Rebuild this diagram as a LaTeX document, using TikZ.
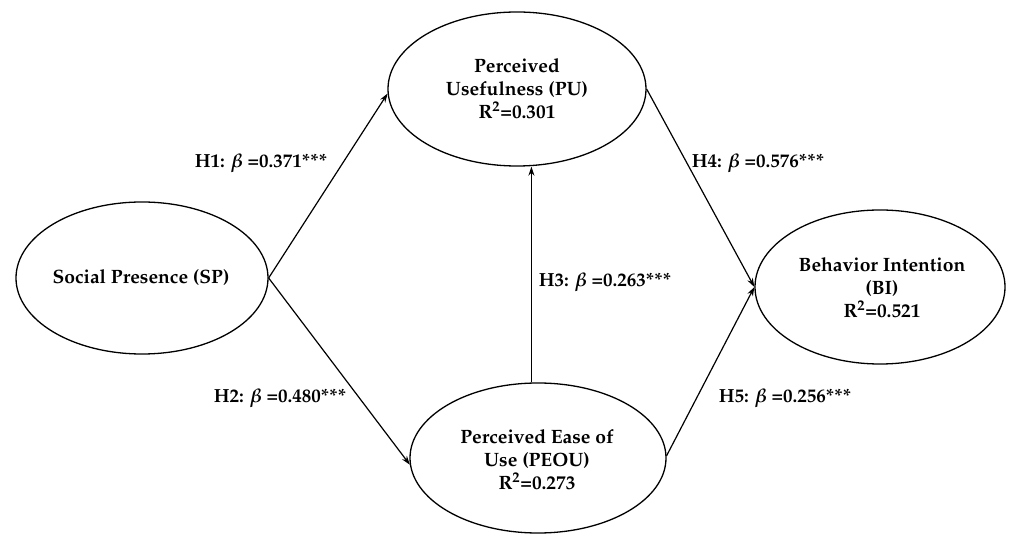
\documentclass[tikz,border=0pt]{standalone}
\usepackage[T1]{fontenc}
\usepackage{mathpazo}
\usetikzlibrary{shapes.geometric,arrows.meta}
\begin{document}
\begin{tikzpicture}[x=1pt,y=-1pt,
  ell/.style={draw, ellipse, inner sep=0pt, line width=1.3pt},
  txt/.style={font=\fontsize{19.3}{23}\selectfont\bfseries, align=center, inner sep=0pt},
  arr/.style={line width=1.2pt, -{Stealth[length=9pt,width=6pt]}},
  lab/.style={font=\fontsize{19}{23}\selectfont\bfseries, inner sep=0pt}]
\useasboundingbox (0,0) rectangle (1010,534);
% ellipses
\node[ell, minimum width=252pt, minimum height=152pt] (SP) at (142,278) {};
\node[ell, minimum width=258pt, minimum height=154pt] (PU) at (517,89) {};
\node[ell, minimum width=256pt, minimum height=150pt] (PEOU) at (538,458) {};
\node[ell, minimum width=250pt, minimum height=154pt] (BI) at (880,287) {};
% texts
\node[txt] (SPt) at (141,278) {Social Presence (SP)};
\node[txt] (PUt) at (517,89) {Perceived\\Usefulness (PU)\\R\textsuperscript{2}=0.301};
\node[txt] (PEOUt) at (537,460) {Perceived Ease of\\Use (PEOU)\\R\textsuperscript{2}=0.273};
\node[txt] (BIt) at (882,288) {Behavior Intention\\(BI)\\R\textsuperscript{2}=0.521};
% connectors
\draw[arr] (SP.east) -- (PU.182);
\draw[arr] (SP.east) -- (PEOU.183);
\draw[arr] (PEOU.95) -- (PEOU.95 |- PU.south);
\draw[arr] (PU.east) -- (BI.west);
\draw[arr] (PEOU.1) -- (BI.west);
% labels
\node[lab] (L1) at (261,163) {H1: {\boldmath$\beta$} =0.371***};
\node[lab] (L2) at (280,398) {H2: {\boldmath$\beta$} =0.480***};
\node[lab] (L3) at (605,282) {H3: {\boldmath$\beta$} =0.263***};
\node[lab] (L4) at (758,163) {H4: {\boldmath$\beta$} =0.576***};
\node[lab] (L5) at (785,398) {H5: {\boldmath$\beta$} =0.256***};
\end{tikzpicture}
\end{document}
